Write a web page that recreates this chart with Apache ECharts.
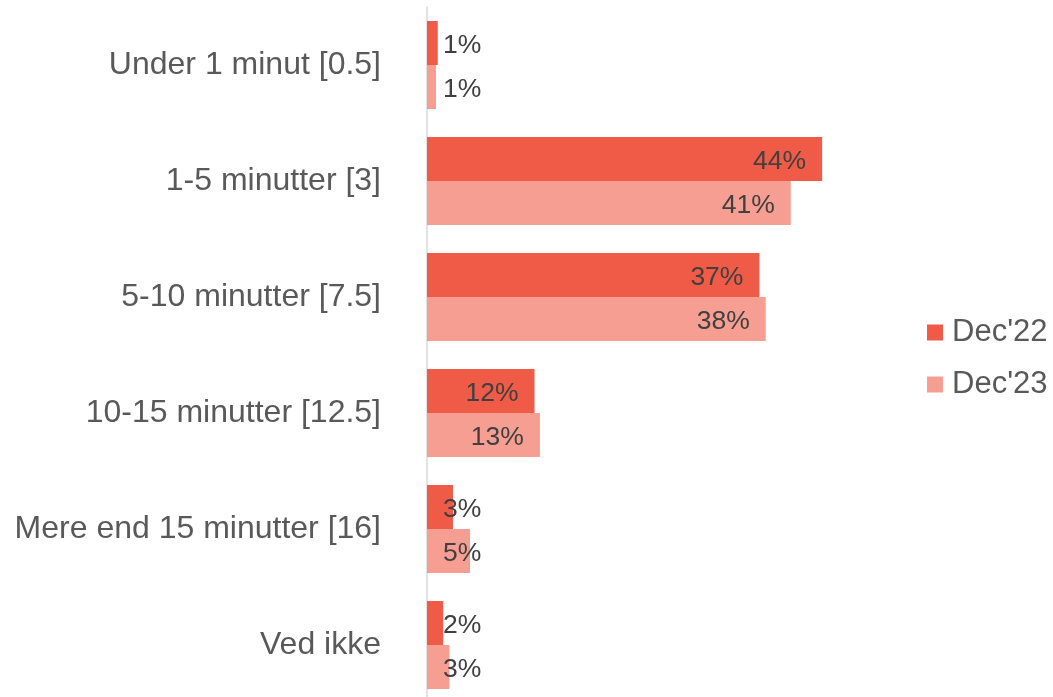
<!DOCTYPE html>
<html>
<head>
<meta charset="utf-8">
<script src="https://cdn.jsdelivr.net/npm/echarts@6/dist/echarts.min.js"></script>
<style>html,body{margin:0;padding:0;background:#fff;overflow:hidden}#c{width:1053px;height:703px}</style>
</head>
<body>
<div id="c"></div>
<script>
const categories = ['Under 1 minut [0.5]', '1-5 minutter [3]', '5-10 minutter [7.5]', '10-15 minutter [12.5]', 'Mere end 15 minutter [16]', 'Ved ikke'];
const dec22 = [1.2, 44.1, 37.1, 12.0, 2.9, 1.8];
const dec23 = [1.0, 40.6, 37.8, 12.6, 4.8, 2.5];
const seriesNames = ["Dec'22", "Dec'23"];

const FONT = 'Liberation Sans, Arial, sans-serif';
function items(arr) {
  return arr.map(v => v < 6
    ? { value: v, label: { position: 'insideLeft', distance: 16 } }
    : { value: v });
}
const labelCfg = {
  show: true, position: 'insideRight', distance: 16, offset: [0, 3],
  fontFamily: FONT, fontSize: 26.5, color: '#404040',
  formatter: p => Math.round(p.value) + '%'
};
const chart = echarts.init(document.getElementById('c'), null, { renderer: 'canvas' });
chart.setOption({
  animation: false,
  grid: { left: 427, top: 7, width: 448, height: 696 },
  legend: {
    orient: 'vertical', left: 922, top: 312,
    itemWidth: 16, itemHeight: 16, itemGap: 21,
    icon: 'rect',
    textStyle: { fontFamily: FONT, fontSize: 31, color: '#595959', lineHeight: 31, padding: [0, 0, 0, 4] },
    data: seriesNames
  },
  xAxis: {
    type: 'value', min: 0, max: 50,
    axisLine: { show: false }, axisTick: { show: false },
    axisLabel: { show: false }, splitLine: { show: false }
  },
  yAxis: {
    type: 'category', data: categories, inverse: true,
    axisLine: { show: true, lineStyle: { color: '#d9d9d9', width: 1.5 } },
    axisTick: { show: false },
    axisLabel: { fontFamily: FONT, fontSize: 32, color: '#595959', margin: 46, padding: [4, 0, 0, 0] }
  },
  series: [
    { name: seriesNames[0], type: 'bar', data: items(dec22), barWidth: 44, barGap: '0%',
      itemStyle: { color: '#EF5B47' }, label: labelCfg },
    { name: seriesNames[1], type: 'bar', data: items(dec23), barWidth: 44, barGap: '0%',
      itemStyle: { color: '#F59E91' }, label: labelCfg }
  ]
});
</script>
</body>
</html>
